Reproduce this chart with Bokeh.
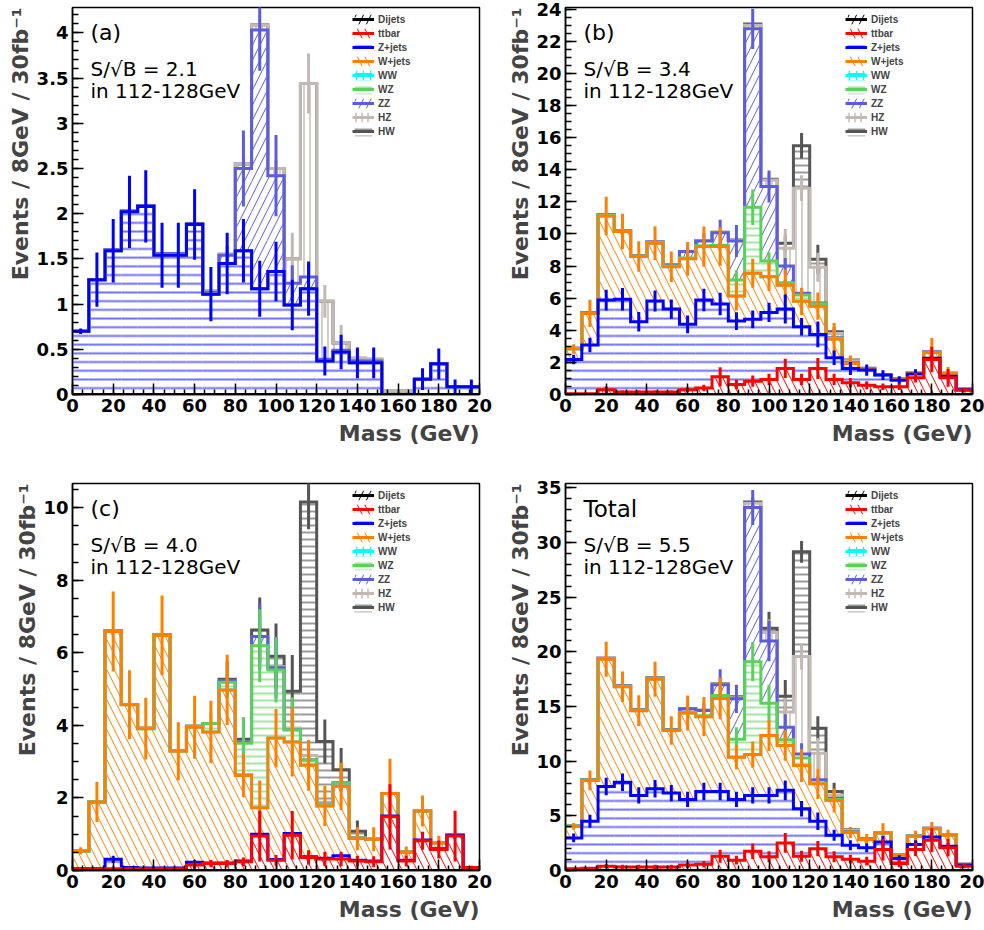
import numpy as np
from bokeh.plotting import figure
from bokeh.layouts import column, row
from bokeh.models import (Range1d, FixedTicker, Legend, LegendItem, Label, Title,
                          ColumnDataSource, CustomJSTickFormatter)
from bokeh.embed import file_html
from bokeh.resources import INLINE

# ---------------- data ----------------
BIN_EDGES = list(range(0, 201, 8))          # 25 bins of 8 GeV
X_TICKS = [0, 20, 40, 60, 80, 100, 120, 140, 160, 180, 200]
X_TICK_LABELS = ["0", "20", "40", "60", "80", "100", "120", "140", "160", "180", "20"]
PROCESSES = ["Dijets", "ttbar", "Z+jets", "W+jets", "WW", "WZ", "ZZ", "HZ", "HW"]
PANEL_TAGS = ["(a)", "(b)", "(c)", "Total"]
SNB = ["2.1", "3.4", "4.0", "5.5"]

# panel (a)
A_ZJETS = [0.70, 1.27, 1.59, 2.02, 2.08, 1.54, 1.54, 1.88, 1.11, 1.45, 1.59, 1.17, 1.36, 0.99, 1.17, 0.37, 0.47, 0.35, 0.35, 0.00, 0.00, 0.17, 0.34, 0.085, 0.085]
A_ZJETS_ERR = [0.03, 0.30, 0.35, 0.40, 0.40, 0.36, 0.36, 0.39, 0.30, 0.34, 0.35, 0.31, 0.33, 0.28, 0.30, 0.16, 0.19, 0.17, 0.17, 0.00, 0.00, 0.12, 0.17, 0.08, 0.08]
A_ZZ = [0, 0, 0.01, 0.01, 0.01, 0.02, 0.02, 0.01, 0.02, 0.09, 0.91, 2.86, 1.06, 0.24, 0.13, 0.02, 0.02, 0.02, 0.02, 0, 0, 0, 0, 0, 0]
A_ZZ_ERR = [0, 0, 0, 0, 0, 0, 0, 0, 0, 0.10, 0.42, 0.45, 0.45, 0.20, 0.15, 0, 0, 0, 0, 0, 0, 0, 0, 0, 0]
A_HZ = [0, 0, 0, 0, 0, 0, 0, 0, 0.02, 0.01, 0.05, 0.06, 0.08, 0.27, 2.14, 0.64, 0.08, 0.03, 0.02, 0.04, 0.04, 0, 0, 0, 0]
A_HZ_ERR = [0, 0, 0, 0, 0, 0, 0, 0, 0, 0, 0.10, 0.10, 0.10, 0.29, 0.33, 0.18, 0.20, 0.10, 0, 0, 0, 0, 0, 0, 0]

# panel (b)
B_TTBAR = [0.05, 0.05, 0.30, 0.15, 0.15, 0.15, 0.15, 0.30, 0.40, 1.10, 0.62, 0.83, 0.94, 1.62, 0.94, 1.62, 0.94, 0.73, 0.58, 0.48, 0.48, 1.04, 2.18, 1.04, 0.27]
B_TTBAR_ERR = [0.05, 0.05, 0.20, 0.10, 0.10, 0.10, 0.10, 0.15, 0.20, 0.60, 0.30, 0.35, 0.35, 0.60, 0.35, 0.65, 0.35, 0.30, 0.25, 0.20, 0.20, 0.30, 0.80, 0.55, 0.15]
B_ZJETS = [2.13, 3.03, 5.58, 5.78, 4.38, 5.67, 5.17, 4.07, 5.48, 4.53, 3.95, 3.85, 4.17, 3.70, 3.28, 2.12, 1.35, 0.89, 0.94, 0.73, 0.41, 0.23, 0.07, 0.10, 0.03]
B_ZJETS_ERR = [0.30, 0.45, 0.65, 0.70, 0.60, 0.65, 0.60, 0.55, 0.70, 0.70, 0.55, 0.55, 0.60, 0.90, 0.55, 0.80, 0.45, 0.40, 0.35, 0.30, 0.25, 0.30, 0.20, 0.15, 0.05]
B_WJETS = [0.65, 1.97, 5.24, 4.22, 4.06, 3.60, 2.63, 4.08, 3.33, 3.58, 1.56, 2.87, 2.23, 1.48, 1.58, 1.76, 1.16, 0.31, 0.03, 0.02, 0.05, 0.08, 0.37, 0.17, 0.03]
B_WJETS_ERR = [0.30, 0.85, 1.20, 1.10, 0.95, 1.05, 0.95, 1.05, 1.25, 1.20, 0.90, 0.90, 0.90, 1.00, 0.85, 0.85, 1.00, 0.50, 0.20, 0.10, 0.10, 0.20, 0.90, 0.40, 0.10]
B_WZ = [0.03, 0.03, 0.05, 0.03, 0.03, 0.05, 0.05, 0.05, 0.05, 0.09, 1.00, 4.11, 0.97, 0.16, 0.39, 0.15, 0.05, 0.02, 0.02, 0, 0, 0, 0, 0, 0]
B_WZ_ERR = [0, 0, 0, 0, 0, 0, 0, 0, 0, 0.10, 0.60, 1.10, 0.55, 0.25, 0.30, 0.20, 0, 0, 0, 0, 0, 0, 0, 0, 0]
B_ZZ = [0.02, 0.02, 0.03, 0.02, 0.02, 0.03, 0.07, 0.40, 0.30, 0.78, 2.43, 11.11, 4.64, 1.04, 0.11, 0.05, 0.03, 0.02, 0.03, 0.02, 0.02, 0.02, 0.02, 0.02, 0.01]
B_ZZ_ERR = [0, 0, 0, 0, 0, 0, 0.15, 0.30, 0.50, 0.80, 1.00, 1.25, 1.00, 0.50, 0.30, 0, 0, 0, 0, 0, 0, 0, 0, 0, 0]
B_HZ = [0, 0, 0, 0, 0, 0, 0, 0, 0.03, 0.03, 0.04, 0.23, 0.40, 1.10, 6.55, 2.22, 0.27, 0.13, 0.03, 0, 0, 0, 0, 0, 0]
B_HZ_ERR = [0, 0, 0, 0, 0, 0, 0, 0, 0, 0, 0, 0, 0.40, 1.20, 0.80, 0.90, 0.30, 0.20, 0, 0, 0, 0, 0, 0, 0]
B_HW = [0, 0, 0, 0, 0, 0, 0, 0, 0, 0, 0.02, 0.08, 0.05, 0.32, 2.64, 0.50, 0.10, 0.05, 0, 0, 0, 0, 0, 0, 0]
B_HW_ERR = [0, 0, 0, 0, 0, 0, 0, 0, 0, 0, 0, 0, 0, 0.50, 0.80, 0.90, 0.30, 0, 0, 0, 0, 0, 0, 0, 0]

# panel (c)
C_TTBAR = [0.03, 0.03, 0.05, 0.05, 0.05, 0.05, 0.05, 0.15, 0.19, 0.19, 0.24, 0.95, 0.28, 0.97, 0.36, 0.32, 0.32, 0.26, 0.24, 1.48, 0.26, 0.82, 0.58, 0.95, 0.08]
C_TTBAR_ERR = [0.02, 0.02, 0.05, 0.05, 0.05, 0.05, 0.05, 0.10, 0.10, 0.10, 0.12, 0.70, 0.15, 0.67, 0.20, 0.20, 0.20, 0.15, 0.15, 0.90, 0.15, 0.25, 0.25, 0.70, 0.05]
C_ZJETS = [0.02, 0.02, 0.26, 0.03, 0.02, 0.02, 0.02, 0.08, 0.02, 0.02, 0.02, 0.05, 0.02, 0.05, 0.02, 0.02, 0.09, 0.02, 0.02, 0.02, 0.02, 0.02, 0.02, 0.02, 0.00]
C_ZJETS_ERR = [0.01, 0.01, 0.10, 0.02, 0.01, 0.01, 0.01, 0.05, 0.01, 0.01, 0.01, 0.05, 0.01, 0.05, 0.01, 0.01, 0.05, 0.01, 0.01, 0.01, 0.01, 0.01, 0.01, 0.01, 0.00]
C_WJETS = [0.49, 1.84, 6.28, 4.49, 3.84, 6.41, 3.22, 3.72, 3.61, 4.77, 2.36, 0.73, 3.35, 2.52, 2.52, 1.44, 1.91, 0.60, 0.60, 0.62, 0.23, 0.80, 0.16, 0.02, 0.00]
C_WJETS_ERR = [0.10, 0.55, 1.10, 0.95, 0.85, 1.10, 0.80, 0.87, 0.86, 0.97, 0.60, 0.75, 0.80, 0.95, 0.70, 0.55, 0.65, 0.32, 0.33, 0.96, 0.15, 0.43, 0.20, 0.10, 0.00]
C_WW = [0, 0, 0, 0, 0, 0, 0, 0, 0, 0, 0.03, 0, 0, 0, 0, 0, 0, 0, 0, 0, 0, 0, 0, 0, 0]
C_WZ = [0, 0, 0.02, 0.01, 0.01, 0.02, 0.02, 0.03, 0.23, 0.21, 0.86, 4.47, 1.88, 0.34, 0.15, 0.05, 0.10, 0.02, 0, 0, 0, 0, 0, 0, 0]
C_WZ_ERR = [0, 0, 0, 0, 0, 0, 0, 0, 0.30, 0.25, 0.70, 1.00, 0.90, 0.90, 0.30, 0, 0, 0, 0, 0, 0, 0, 0, 0, 0]
C_ZZ = [0, 0, 0, 0, 0, 0, 0, 0, 0, 0.03, 0.03, 0.25, 0.06, 0, 0, 0, 0, 0, 0, 0, 0, 0, 0, 0, 0]
C_ZZ_ERR = [0, 0, 0, 0, 0, 0, 0, 0, 0, 0, 0, 0.92, 0.85, 0, 0, 0, 0, 0, 0, 0, 0, 0, 0, 0, 0]
C_HZ = [0, 0, 0, 0, 0, 0, 0, 0, 0, 0, 0, 0, 0.03, 0.05, 0.12, 0.05, 0, 0, 0, 0, 0, 0, 0, 0, 0]
C_HZ_ERR = [0, 0, 0, 0, 0, 0, 0, 0, 0, 0, 0, 0, 0, 0, 0.15, 0, 0, 0, 0, 0, 0, 0, 0, 0, 0]
C_HW = [0, 0, 0, 0, 0, 0, 0, 0, 0, 0.05, 0.08, 0.18, 0.29, 1.01, 6.99, 1.68, 0.36, 0.18, 0, 0, 0, 0, 0, 0, 0]
C_HW_ERR = [0, 0, 0, 0, 0, 0, 0, 0, 0, 0.50, 0.60, 0.90, 0.90, 1.00, 0.75, 0.60, 0.60, 0.30, 0, 0, 0, 0, 0, 0, 0]

# panel (d) total
D_TTBAR = [0.15, 0.20, 0.40, 0.33, 0.33, 0.33, 0.33, 0.50, 0.58, 1.30, 0.94, 1.76, 1.25, 2.52, 1.30, 2.00, 1.25, 1.03, 0.85, 1.91, 0.64, 1.91, 2.77, 2.07, 0.40]
D_TTBAR_ERR = [0.10, 0.10, 0.20, 0.20, 0.20, 0.20, 0.20, 0.25, 0.30, 0.60, 0.40, 0.70, 0.50, 0.90, 0.50, 0.70, 0.50, 0.40, 0.40, 1.00, 0.35, 0.60, 1.10, 0.80, 0.20]
D_ZJETS = [2.83, 4.30, 7.29, 7.75, 6.54, 7.15, 6.75, 6.00, 6.65, 5.93, 5.56, 5.11, 5.62, 4.81, 4.35, 2.50, 1.97, 1.28, 1.22, 0.70, 0.45, 0.46, 0.30, 0.15, 0.10]
D_ZJETS_ERR = [0.40, 0.60, 0.80, 0.80, 0.75, 0.80, 0.75, 0.70, 0.80, 0.80, 0.70, 0.75, 0.75, 0.90, 0.70, 0.80, 0.50, 0.45, 0.40, 0.55, 0.30, 0.40, 0.40, 0.30, 0.10]
D_WJETS = [1.06, 3.74, 11.64, 8.73, 7.75, 10.02, 5.72, 7.90, 6.84, 8.51, 3.86, 3.73, 5.47, 4.10, 3.95, 3.43, 3.19, 1.16, 0.76, 0.82, 0.31, 0.76, 0.76, 1.00, 0.05]
D_WJETS_ERR = [0.30, 0.90, 1.60, 1.40, 1.40, 1.60, 1.30, 1.60, 1.80, 1.90, 1.10, 1.20, 1.40, 1.40, 1.50, 1.40, 1.10, 0.50, 0.50, 0.90, 0.20, 0.50, 0.60, 0.50, 0.10]
D_WZ = [0.02, 0.03, 0.05, 0.05, 0.05, 0.05, 0.05, 0.05, 0.08, 0.26, 1.64, 8.50, 2.96, 0.54, 0.70, 0.07, 0.09, 0.03, 0.02, 0, 0, 0, 0, 0, 0]
D_WZ_ERR = [0, 0, 0, 0, 0, 0, 0, 0, 0, 0.40, 1.10, 1.80, 1.70, 0.80, 0.80, 0, 0, 0, 0, 0, 0, 0, 0, 0, 0]
D_ZZ = [0.02, 0.03, 0.04, 0.04, 0.05, 0.05, 0.05, 0.35, 0.49, 1.00, 3.70, 14.10, 5.70, 1.13, 0.35, 0.30, 0.10, 0.05, 0.05, 0.03, 0.02, 0.02, 0.03, 0.03, 0.02]
D_ZZ_ERR = [0, 0, 0, 0, 0, 0, 0, 0.50, 0.70, 1.40, 1.30, 1.60, 1.85, 1.20, 1.00, 0.30, 0, 0, 0, 0, 0, 0, 0, 0, 0]
D_HZ = [0, 0, 0, 0, 0, 0, 0, 0, 0.02, 0.05, 0.10, 0.40, 0.76, 1.40, 8.92, 2.43, 0.30, 0.15, 0.03, 0, 0, 0, 0, 0, 0]
D_HZ_ERR = [0, 0, 0, 0, 0, 0, 0, 0, 0, 0, 0, 0, 1.20, 1.30, 1.20, 1.40, 0.40, 0, 0, 0, 0, 0, 0, 0, 0]
D_HW = [0, 0, 0, 0, 0, 0, 0, 0, 0, 0.03, 0.10, 0.10, 0.40, 1.43, 9.58, 2.28, 0.33, 0.05, 0, 0, 0, 0, 0, 0, 0]
D_HW_ERR = [0, 0, 0, 0, 0, 0, 0, 0, 0, 0, 0, 0.40, 1.50, 1.50, 1.00, 1.10, 0.80, 0, 0, 0, 0, 0, 0, 0, 0]

PANELS = [
    dict(vals={"Z+jets": A_ZJETS, "ZZ": A_ZZ, "HZ": A_HZ},
         errs={"Z+jets": A_ZJETS_ERR, "ZZ": A_ZZ_ERR, "HZ": A_HZ_ERR},
         ymax=4.28, ystep=0.5, yminor=0.1),
    dict(vals={"ttbar": B_TTBAR, "Z+jets": B_ZJETS, "W+jets": B_WJETS, "WZ": B_WZ, "ZZ": B_ZZ, "HZ": B_HZ, "HW": B_HW},
         errs={"ttbar": B_TTBAR_ERR, "Z+jets": B_ZJETS_ERR, "W+jets": B_WJETS_ERR, "WZ": B_WZ_ERR, "ZZ": B_ZZ_ERR, "HZ": B_HZ_ERR, "HW": B_HW_ERR},
         ymax=24.1, ystep=2, yminor=0.5),
    dict(vals={"ttbar": C_TTBAR, "Z+jets": C_ZJETS, "W+jets": C_WJETS, "WW": C_WW, "WZ": C_WZ, "ZZ": C_ZZ, "HZ": C_HZ, "HW": C_HW},
         errs={"ttbar": C_TTBAR_ERR, "Z+jets": C_ZJETS_ERR, "W+jets": C_WJETS_ERR, "WZ": C_WZ_ERR, "ZZ": C_ZZ_ERR, "HZ": C_HZ_ERR, "HW": C_HW_ERR},
         ymax=10.67, ystep=2, yminor=0.5),
    dict(vals={"ttbar": D_TTBAR, "Z+jets": D_ZJETS, "W+jets": D_WJETS, "WZ": D_WZ, "ZZ": D_ZZ, "HZ": D_HZ, "HW": D_HW},
         errs={"ttbar": D_TTBAR_ERR, "Z+jets": D_ZJETS_ERR, "W+jets": D_WJETS_ERR, "WZ": D_WZ_ERR, "ZZ": D_ZZ_ERR, "HZ": D_HZ_ERR, "HW": D_HW_ERR},
         ymax=35.4, ystep=5, yminor=1),
]

# ---------------- styles ----------------
STYLE = {
    "Dijets": dict(line="#000000", hatch="#000000", pattern="right_diagonal_line", scale=15, weight=1),
    "ttbar":  dict(line="#ff0000", hatch="#ff0000", pattern="left_diagonal_line", scale=15, weight=1),
    "Z+jets": dict(line="#0000ff", hatch="#7070f2", pattern="horizontal_line", scale=8.7, weight=2),
    "W+jets": dict(line="#ff8000", hatch="#ff8000", pattern="left_diagonal_line", scale=15, weight=1),
    "WW":     dict(line="#00ffff", hatch="#00ffff", pattern="cross", scale=7, weight=1),
    "WZ":     dict(line="#5cd05c", hatch="#a4e4a4", pattern="horizontal_line", scale=7, weight=2),
    "ZZ":     dict(line="#5c5cdc", hatch="#5c5cdc", pattern="right_diagonal_line", scale=15, weight=1),
    "HZ":     dict(line="#c2bab2", hatch="#d4cec8", pattern="vertical_line", scale=6, weight=2),
    "HW":     dict(line="#555555", hatch="#9a9a9a", pattern="horizontal_line", scale=7, weight=2),
}
FONT = "DejaVu Sans"
FRAME_H = 387


def build(idx):
    cfg = PANELS[idx]
    left_col = idx in (0, 2)
    top_row = idx in (0, 1)
    ymax = cfg["ymax"]
    p = figure(width=492, height=465, x_range=Range1d(0, 200), y_range=Range1d(0, ymax),
               output_backend="svg", toolbar_location=None, title=None,
               min_border_left=72 if left_col else 73, min_border_right=13 if left_col else 12,
               min_border_top=7 if top_row else 18, min_border_bottom=71 if top_row else 60)
    p.xgrid.visible = False
    p.ygrid.visible = False
    p.outline_line_color = "black"
    p.outline_line_width = 1.5
    p.background_fill_color = "white"
    p.border_fill_color = "white"

    # axes
    p.xaxis.ticker = FixedTicker(ticks=X_TICKS, minor_ticks=list(range(0, 201, 5)))
    p.xaxis.major_label_overrides = {t: s for t, s in zip(X_TICKS, X_TICK_LABELS)}
    nmaj = int(ymax / cfg["ystep"] + 1e-9)
    yt = [round(k * cfg["ystep"], 6) for k in range(nmaj + 1)]
    nmin = int(ymax / cfg["yminor"] + 1e-9)
    ym = [round(k * cfg["yminor"], 6) for k in range(nmin + 1)]
    p.yaxis.ticker = FixedTicker(ticks=yt, minor_ticks=ym)
    p.yaxis.formatter = CustomJSTickFormatter(code="return String(Math.round(tick*10)/10)")
    for ax in (p.xaxis[0], p.yaxis[0]):
        ax.major_tick_in = 11
        ax.major_tick_out = 0
        ax.minor_tick_in = 6
        ax.minor_tick_out = 0
        ax.major_tick_line_width = 1.5
        ax.minor_tick_line_width = 1.5
        ax.axis_line_width = 1.5
        ax.axis_line_color = "black"
        ax.major_label_text_font = FONT
        ax.major_label_text_font_style = "bold"
        ax.major_label_text_font_size = "18px"
        ax.major_label_text_color = "black"
        ax.major_label_standoff = 4
    p.xaxis.minor_tick_in = 5

    p.add_layout(Title(text="Mass (GeV)", align="right", text_font=FONT, text_font_style="bold",
                       text_font_size="22px", standoff=9), "below")
    p.add_layout(Title(text="Events / 8GeV / 30fb⁻¹", align="right", text_font=FONT,
                       text_font_style="bold", text_font_size="22px", standoff=2), "left")

    edges = np.array(BIN_EDGES, dtype=float)
    lefts, rights = edges[:-1], edges[1:]
    centers = (lefts + rights) / 2
    nb = len(lefts)
    bottom = np.zeros(nb)
    layers = []
    for name in PROCESSES:
        v = np.array(cfg["vals"].get(name, [0] * nb), dtype=float)
        e = np.array(cfg["errs"].get(name, [0] * nb), dtype=float)
        top = bottom + v
        layers.append((name, bottom.copy(), top.copy(), v, e))
        bottom = top

    rends = {}
    for name, b, t, v, e in layers:
        st = STYLE[name]
        src = ColumnDataSource(dict(left=lefts, right=rights, bottom=b, top=t))
        q = p.quad(left="left", right="right", bottom="bottom", top="top", source=src,
                   fill_color=None, line_color=None, hatch_pattern=st["pattern"],
                   hatch_color=st["hatch"], hatch_scale=st["scale"], hatch_weight=st["weight"])
        rends[name] = [q]
    for name, b, t, v, e in reversed(layers):
        st = STYLE[name]
        ln = p.step(x=edges, y=np.append(t, t[-1]), mode="after", line_color=st["line"],
                    line_width=3, line_join="miter")
        rends[name].append(ln)
        m = (v > 0) & (e > 0)
        if m.any():
            p.segment(x0=centers[m], y0=(t - e)[m], x1=centers[m], y1=(t + e)[m],
                      line_color=st["line"], line_width=3)

    legend = Legend(items=[LegendItem(label=n, renderers=rends[n]) for n in PROCESSES],
                    location=(280, 257), label_text_font="Liberation Sans",
                    label_text_font_style="bold", label_text_font_size="10px",
                    glyph_width=22, glyph_height=12, label_height=12, label_standoff=4,
                    spacing=2, padding=0, margin=0, border_line_color=None,
                    background_fill_alpha=0)
    p.add_layout(legend)

    tag = PANEL_TAGS[idx]
    p.add_layout(Label(x=18, y=FRAME_H - 25, x_units="screen", y_units="screen", text=tag,
                       text_font=FONT, text_font_size="23px" if tag == "Total" else "22px",
                       text_baseline="alphabetic", text_color="black"))
    p.add_layout(Label(x=18, y=FRAME_H - 61, x_units="screen", y_units="screen",
                       text="S/√B = " + SNB[idx], text_font=FONT, text_font_size="20px",
                       text_baseline="alphabetic", text_color="black"))
    p.add_layout(Label(x=18, y=FRAME_H - 83, x_units="screen", y_units="screen",
                       text="in 112-128GeV", text_font=FONT, text_font_size="20px",
                       text_baseline="alphabetic", text_color="black"))
    return p


figs = [build(i) for i in range(4)]
layout = column(row(figs[0], figs[1]), row(figs[2], figs[3]))
open("out.html", "w").write(file_html(layout, INLINE))
